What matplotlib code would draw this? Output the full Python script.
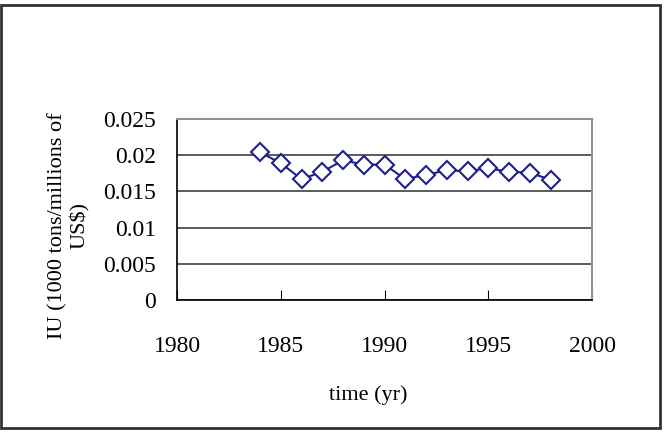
import matplotlib.pyplot as plt
from matplotlib.patches import Rectangle

years = [1984, 1985, 1986, 1987, 1988, 1989, 1990, 1991, 1992, 1993, 1994, 1995, 1996, 1997, 1998]
iu = [0.0204, 0.0189, 0.0167, 0.0177, 0.0193, 0.0187, 0.0187, 0.0167, 0.0173, 0.0179, 0.0178, 0.0182, 0.0177, 0.0176, 0.0166]
x_ticks = [1980, 1985, 1990, 1995, 2000]
y_ticks = [0, 0.005, 0.01, 0.015, 0.02, 0.025]
y_labels = ["0", "0.005", "0.01", "0.015", "0.02", "0.025"]

plt.rcParams["font.family"] = "Liberation Serif"

fig = plt.figure(figsize=(6.68, 4.32), dpi=100)
W, H = 668, 432
ax = fig.add_axes([177 / W, 1 - 300 / H, (592 - 177) / W, (300 - 119) / H])

ax.plot(years, iu, color="#1f1f8c", linewidth=1.5, marker="D", markersize=9,
        markerfacecolor="white", markeredgecolor="#1f1f8c", markeredgewidth=1.5)

ax.set_xlim(1980, 2000)
ax.set_ylim(0, 0.025)
ax.set_xticks(x_ticks)
ax.set_xticklabels([str(t) for t in x_ticks], fontsize=17)
ax.set_yticks(y_ticks)
ax.set_yticklabels(y_labels, fontsize=17)
ax.yaxis.grid(True, color="#404040", linewidth=1.2)
ax.set_axisbelow(True)

for side in ["top", "right"]:
    ax.spines[side].set_color("#909090")
    ax.spines[side].set_linewidth(1.5)
for side in ["left", "bottom"]:
    ax.spines[side].set_color("black")
    ax.spines[side].set_linewidth(1.2)

ax.tick_params(axis="x", direction="in", length=7, pad=26, color="black")
ax.tick_params(axis="y", length=0, pad=15)

ax.set_xlabel("time (yr)", fontsize=16)
ax.xaxis.set_label_coords(0.461, -0.47)
ax.set_ylabel("IU (1000 tons/millions of\nUS$)", fontsize=16, linespacing=1.15)
ax.yaxis.set_label_coords(-0.21, 0.41)

# outer frame
fig.patches.append(Rectangle((1 / W, 1 - 428 / H), 659 / W, 423 / H, transform=fig.transFigure,
                             fill=False, edgecolor="#333333", linewidth=2))

fig.savefig("out.png", dpi=100)
